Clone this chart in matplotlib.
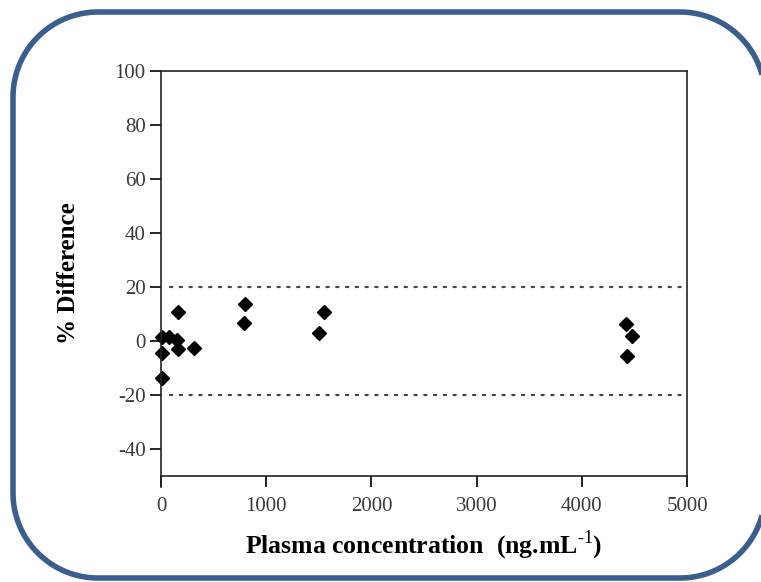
import numpy as np
import matplotlib.pyplot as plt
from matplotlib.patches import Polygon

# plasma concentration (ng/mL) and % difference
conc = [10, 75, 150, 10, 160, 310, 10, 165, 790, 800, 1505, 1545, 4420, 4475, 4430]
diff = [1.5, 1.5, 0.5, -4.3, -3.0, -2.7, -13.6, 10.9, 6.8, 13.7, 2.8, 10.6, 6.2, 1.9, -5.6]

limits = [20, -20]
xticks = [0, 1000, 2000, 3000, 4000, 5000]
yticks = [-40, -20, 0, 20, 40, 60, 80, 100]

plt.rcParams['font.family'] = ['Liberation Serif', 'DejaVu Serif']
plt.rcParams['axes.unicode_minus'] = False
plt.rcParams['mathtext.fontset'] = 'custom'
plt.rcParams['mathtext.rm'] = 'Liberation Serif'
plt.rcParams['mathtext.bf'] = 'Liberation Serif:bold'


def rounded_rect(x0, y0, x1, y1, r, n=40):
    # polyline outline of a rounded rectangle (agg mangles clipped bezier corners)
    pts = []
    for cx, cy, a0 in [(x1 - r, y1 - r, 0), (x0 + r, y1 - r, 90),
                       (x0 + r, y0 + r, 180), (x1 - r, y0 + r, 270)]:
        t = np.radians(np.linspace(a0, a0 + 90, n))
        pts += list(zip(cx + r * np.cos(t), cy + r * np.sin(t)))
    return pts


fig = plt.figure(figsize=(7.61, 5.82), dpi=100)

# rounded blue frame, drawn in pixel units on a background axes
bg = fig.add_axes([0, 0, 1, 1], zorder=-1)
bg.set_xlim(0, 761)
bg.set_ylim(0, 582)
bg.axis('off')
bg.add_patch(Polygon(rounded_rect(13, 4, 765, 570, 85), closed=True, fill=False,
                     edgecolor='#3a5f8e', linewidth=4, joinstyle='round'))

ax = fig.add_axes([161/761, 1 - 476/582, (687 - 161)/761, (476 - 71)/582])
ax.patch.set_alpha(0)

for lim in limits:
    ax.plot([85, 5000], [lim, lim], color='#444444', lw=1.6,
            linestyle=(0, (1, 3.4)), dash_capstyle='round')

ax.plot(conc, diff, 'D', color='black', markersize=7.5, clip_on=False)

ax.set_xlim(0, 5000)
ax.set_ylim(-50, 100)
ax.set_xticks(xticks)
ax.set_yticks(yticks)
ax.tick_params(direction='out', length=8, width=1.2, labelsize=15,
               labelcolor='#3a3a3a')
ax.tick_params(axis='x', pad=7)
ax.tick_params(axis='y', pad=3)
for s in ax.spines.values():
    s.set_linewidth(1.2)
    s.set_color('#222222')
ax.spines['left'].set_bounds(-54, 100)

ax.set_xlabel(r'Plasma concentration  (ng.mL$^{\text{-1}}$)', fontsize=18.5,
              fontweight='bold', labelpad=9)
ax.set_ylabel('% Difference', fontsize=18, fontweight='bold', labelpad=25)

fig.savefig('out.png', dpi=100)
